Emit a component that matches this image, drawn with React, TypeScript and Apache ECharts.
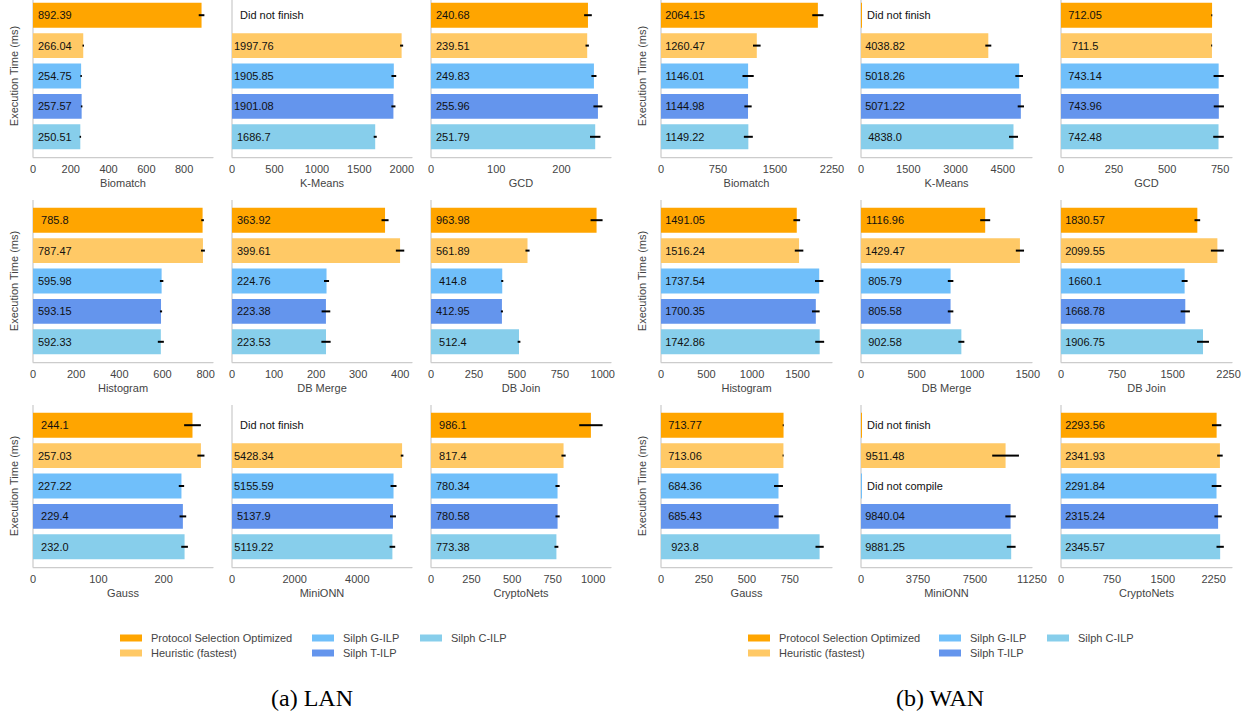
import React, { useEffect, useRef } from 'react';
import * as echarts from 'echarts';

const FONT = '"Liberation Sans", Arial, Helvetica, sans-serif';

const METHODS = ['Protocol Selection Optimized', 'Heuristic (fastest)', 'Silph G-ILP', 'Silph T-ILP', 'Silph C-ILP'];
const COLORS = ['#FFA500', '#FFC966', '#70BFFA', '#6495ED', '#87CEEB'];
const BENCHMARKS = ['Biomatch', 'K-Means', 'GCD', 'Histogram', 'DB Merge', 'DB Join', 'Gauss', 'MiniONN', 'CryptoNets'];
const DNF = 'Did not finish';
const DNC = 'Did not compile';

// ---- LAN execution times (ms), order = METHODS ----
const lanBiomatch = [892.39, 266.04, 254.75, 257.57, 250.51];
const lanKMeans = [DNF, 1997.76, 1905.85, 1901.08, 1686.7];
const lanGCD = [240.68, 239.51, 249.83, 255.96, 251.79];
const lanHistogram = [785.8, 787.47, 595.98, 593.15, 592.33];
const lanDBMerge = [363.92, 399.61, 224.76, 223.38, 223.53];
const lanDBJoin = [963.98, 561.89, 414.8, 412.95, 512.4];
const lanGauss = [244.1, 257.03, 227.22, 229.4, 232.0];
const lanMiniONN = [DNF, 5428.34, 5155.59, 5137.9, 5119.22];
const lanCryptoNets = [986.1, 817.4, 780.34, 780.58, 773.38];

// ---- LAN error bar half-widths (ms) ----
const lanBiomatchErr = [15, 4, 4, 4, 4];
const lanKMeansErr = [0, 18, 28, 24, 18];
const lanGCDErr = [5.9, 2.6, 3.9, 6.9, 8];
const lanHistogramErr = [6, 9, 8, 5, 14];
const lanDBMergeErr = [8.4, 10, 6, 10.3, 11];
const lanDBJoinErr = [35, 12, 6, 6, 8];
const lanGaussErr = [12.8, 5.4, 4.1, 5.1, 5.1];
const lanMiniONNErr = [0, 42, 95, 95, 90];
const lanCryptoNetsErr = [72, 13, 13, 13, 12];

// ---- WAN execution times (ms) ----
const wanBiomatch = [2064.15, 1260.47, 1146.01, 1144.98, 1149.22];
const wanKMeans = [DNF, 4038.82, 5018.26, 5071.22, 4838.0];
const wanGCD = [712.05, 711.5, 743.14, 743.96, 742.48];
const wanHistogram = [1491.05, 1516.24, 1737.54, 1700.35, 1742.86];
const wanDBMerge = [1116.96, 1429.47, 805.79, 805.58, 902.58];
const wanDBJoin = [1830.57, 2099.55, 1660.1, 1668.78, 1906.75];
const wanGauss = [713.77, 713.06, 684.36, 685.43, 923.8];
const wanMiniONN = [DNF, 9511.48, DNC, 9840.04, 9881.25];
const wanCryptoNets = [2293.56, 2341.93, 2291.84, 2315.24, 2345.57];

// ---- WAN error bar half-widths (ms) ----
const wanBiomatchErr = [74, 50, 74, 48, 59];
const wanKMeansErr = [0, 95, 122, 100, 143];
const wanGCDErr = [1, 1, 24, 24, 25];
const wanHistogramErr = [37, 47, 46, 42, 49];
const wanDBMergeErr = [45, 37, 25, 25, 27];
const wanDBJoinErr = [38, 87, 40, 62, 80];
const wanGaussErr = [1, 1, 26, 26, 24];
const wanMiniONNErr = [0, 880, 0, 343, 290];
const wanCryptoNetsErr = [69, 41, 71, 54, 54];

// ---- axis extents and tick steps ----
const LAN_AXIS_MAX = [953, 2120, 276, 834, 428, 1048, 275.5, 5745, 1110];
const LAN_TICK_STEP = [200, 500, 100, 200, 100, 250, 100, 2000, 250];
const WAN_AXIS_MAX = [2250, 5425, 806, 1878, 1538, 2296, 996, 11250, 2520];
const WAN_TICK_STEP = [750, 1500, 250, 500, 500, 750, 250, 3750, 750];

const LAN_TIMES = [lanBiomatch, lanKMeans, lanGCD, lanHistogram, lanDBMerge, lanDBJoin, lanGauss, lanMiniONN, lanCryptoNets];
const LAN_ERRS = [lanBiomatchErr, lanKMeansErr, lanGCDErr, lanHistogramErr, lanDBMergeErr, lanDBJoinErr, lanGaussErr, lanMiniONNErr, lanCryptoNetsErr];
const WAN_TIMES = [wanBiomatch, wanKMeans, wanGCD, wanHistogram, wanDBMerge, wanDBJoin, wanGauss, wanMiniONN, wanCryptoNets];
const WAN_ERRS = [wanBiomatchErr, wanKMeansErr, wanGCDErr, wanHistogramErr, wanDBMergeErr, wanDBJoinErr, wanGaussErr, wanMiniONNErr, wanCryptoNetsErr];

// ---- layout ----
const LAN_LEFTS = [33, 232, 431];
const WAN_LEFTS = [661, 861, 1061];
const LAN_WIDTH = 180;
const WAN_WIDTH = 171;
const ROW_TOPS = [0, 205, 410];
const GRID_H = 152;
const AXIS_OFFSET = 5;

const fmt = (v: number) => (Number.isInteger(v) ? v.toFixed(1) : String(v));

type Panel = {
  name: string;
  times: (number | string)[];
  errs: number[];
  max: number;
  step: number;
  left: number;
  top: number;
  width: number;
  labelOffset: number;
  dnfOffset: number;
  showYName: boolean;
  minBar: number;
};

function buildPanels(): Panel[] {
  const panels: Panel[] = [];
  for (let i = 0; i < 9; i++) {
    const r = Math.floor(i / 3);
    const c = i % 3;
    panels.push({
      name: BENCHMARKS[i], times: LAN_TIMES[i], errs: LAN_ERRS[i], max: LAN_AXIS_MAX[i], step: LAN_TICK_STEP[i],
      left: LAN_LEFTS[c], top: ROW_TOPS[r], width: LAN_WIDTH, labelOffset: 21.8, dnfOffset: 8, showYName: c === 0, minBar: 0,
    });
  }
  for (let i = 0; i < 9; i++) {
    const r = Math.floor(i / 3);
    const c = i % 3;
    panels.push({
      name: BENCHMARKS[i], times: WAN_TIMES[i], errs: WAN_ERRS[i], max: WAN_AXIS_MAX[i], step: WAN_TICK_STEP[i],
      left: WAN_LEFTS[c], top: ROW_TOPS[r], width: WAN_WIDTH, labelOffset: 24, dnfOffset: 6, showYName: c === 0, minBar: 1,
    });
  }
  return panels;
}

function buildOption() {
  const panels = buildPanels();
  const grid: any[] = [];
  const xAxis: any[] = [];
  const yAxis: any[] = [];
  const series: any[] = [];
  const graphic: any[] = [];

  panels.forEach((p, i) => {
    grid.push({ left: p.left, top: p.top, width: p.width, height: GRID_H, containLabel: false });
    xAxis.push({
      type: 'value', gridIndex: i, min: 0, max: p.max, interval: p.step, offset: AXIS_OFFSET,
      axisLine: { show: true, lineStyle: { color: '#cccccc', width: 1.25 } },
      axisTick: { show: false }, splitLine: { show: false },
      axisLabel: {
        color: '#444', fontSize: 11, fontFamily: FONT, margin: 6,
        formatter: (v: number) => (Math.abs(v % p.step) < 1e-9 ? String(v) : ''),
      },
      name: p.name, nameLocation: 'middle', nameGap: 20,
      nameTextStyle: { color: '#444', fontSize: 11, fontFamily: FONT },
    });
    yAxis.push({
      type: 'category', gridIndex: i, data: METHODS, inverse: true,
      axisLine: { show: false }, axisTick: { show: false }, axisLabel: { show: false }, splitLine: { show: false },
      name: p.showYName ? 'Execution Time (ms)' : '', nameLocation: 'middle', nameGap: 14, nameRotate: 90,
      nameTextStyle: { color: '#444', fontSize: 11, fontFamily: FONT },
    });
    series.push({
      type: 'bar', xAxisIndex: i, yAxisIndex: i, barWidth: '82%', silent: true, barMinHeight: p.minBar,
      label: {
        show: true, position: [p.labelOffset, '50%'], align: 'center', verticalAlign: 'middle',
        color: '#111', fontSize: 11, fontFamily: FONT,
        formatter: (params: any) => {
          const t = p.times[params.dataIndex];
          return typeof t === 'string' ? t : fmt(t);
        },
      },
      data: p.times.map((t, k) => {
        if (typeof t === 'string') {
          return {
            value: 0, itemStyle: { color: COLORS[k] },
            label: { position: [p.dnfOffset, '50%'], align: 'left' },
          };
        }
        return { value: t, itemStyle: { color: COLORS[k] } };
      }),
    });
    series.push({
      type: 'custom', xAxisIndex: i, yAxisIndex: i, silent: true, z: 5,
      encode: { x: 0, y: 1 },
      data: p.times
        .map((t, k) => (typeof t === 'string' ? null : [t, k, p.errs[k]]))
        .filter((d) => d !== null),
      renderItem: (params: any, api: any) => {
        const v = api.value(0);
        const c = api.value(1);
        const e = api.value(2);
        const a = api.coord([v - e, c]);
        const b = api.coord([v + e, c]);
        const x1 = Math.min(a[0], b[0] - 1);
        return {
          type: 'line',
          shape: { x1, y1: a[1], x2: b[0], y2: b[1] },
          style: { stroke: '#000', lineWidth: 2 },
        };
      },
    });
    graphic.push({
      type: 'line', silent: true,
      shape: { x1: p.left, y1: p.top - AXIS_OFFSET, x2: p.left, y2: p.top + GRID_H + AXIS_OFFSET },
      style: { stroke: '#cccccc', lineWidth: 1.25 },
    });
  });

  // hidden grid carrying the legend entries
  const hiddenIdx = panels.length;
  grid.push({ left: -100, top: -100, width: 10, height: 10 });
  xAxis.push({ type: 'value', gridIndex: hiddenIdx, show: false });
  yAxis.push({ type: 'category', gridIndex: hiddenIdx, show: false, data: ['x'] });
  METHODS.forEach((m, k) => {
    series.push({ type: 'bar', name: m, xAxisIndex: hiddenIdx, yAxisIndex: hiddenIdx, data: [], itemStyle: { color: COLORS[k] } });
  });

  const legendPos = (x: number, cy: number, name: string) => ({
    data: [name], left: x, top: cy - 7, padding: 0, itemGap: 0, icon: 'rect',
    itemWidth: 22, itemHeight: 7, selectedMode: false,
    textStyle: { color: '#444', fontSize: 11, fontFamily: FONT, lineHeight: 14, padding: [0, 0, 0, 4] },
  });
  const legend = [
    legendPos(120, 638, METHODS[0]), legendPos(120, 653, METHODS[1]),
    legendPos(312, 638, METHODS[2]), legendPos(312, 653, METHODS[3]),
    legendPos(420, 638, METHODS[4]),
    legendPos(748, 638, METHODS[0]), legendPos(748, 653, METHODS[1]),
    legendPos(939, 638, METHODS[2]), legendPos(939, 653, METHODS[3]),
    legendPos(1047, 638, METHODS[4]),
  ];

  graphic.push({
    type: 'text', x: 312, y: 698, silent: true,
    style: { text: '(a) LAN', font: '24px "Liberation Serif", "Times New Roman", serif', fill: '#000', align: 'center', verticalAlign: 'middle' },
  });
  graphic.push({
    type: 'text', x: 940, y: 698, silent: true,
    style: { text: '(b) WAN', font: '24px "Liberation Serif", "Times New Roman", serif', fill: '#000', align: 'center', verticalAlign: 'middle' },
  });

  return {
    animation: false,
    backgroundColor: '#ffffff',
    textStyle: { fontFamily: FONT },
    grid, xAxis, yAxis, series, legend, graphic,
  };
}

export default function App() {
  const ref = useRef<HTMLDivElement>(null);
  useEffect(() => {
    if (!ref.current) return;
    const chart = echarts.init(ref.current, undefined, { renderer: 'svg' });
    chart.setOption(buildOption() as any);
    return () => chart.dispose();
  }, []);
  return (
    <div
      ref={ref}
      style={{ position: 'fixed', left: 0, top: 0, width: 1251, height: 715, background: '#fff' }}
    />
  );
}
